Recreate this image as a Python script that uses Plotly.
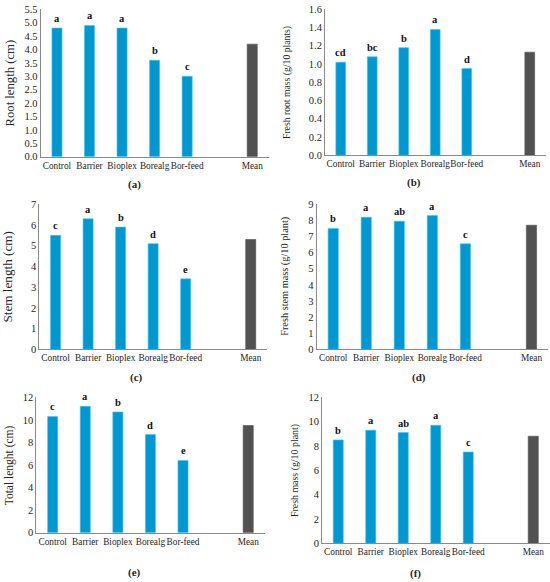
import plotly.graph_objects as go

# ---------------- data ----------------
categories = ["Control", "Barrier", "Bioplex", "Borealg", "Bor-feed", " ", "Mean"]

root_length = [4.8, 4.9, 4.8, 3.6, 3.0, None, 4.2]
root_letters = ["a", "a", "a", "b", "c", "", ""]

fresh_root_mass = [1.02, 1.08, 1.18, 1.38, 0.95, None, 1.13]
fresh_root_letters = ["cd", "bc", "b", "a", "d", "", ""]

stem_length = [5.5, 6.3, 5.9, 5.1, 3.4, None, 5.3]
stem_letters = ["c", "a", "b", "d", "e", "", ""]

fresh_stem_mass = [7.5, 8.2, 7.95, 8.3, 6.55, None, 7.7]
fresh_stem_letters = ["b", "a", "ab", "a", "c", "", ""]

total_length = [10.3, 11.2, 10.7, 8.7, 6.4, None, 9.5]
total_letters = ["c", "a", "b", "d", "e", "", ""]

fresh_mass = [8.5, 9.3, 9.1, 9.7, 7.5, None, 8.8]
fresh_mass_letters = ["b", "a", "ab", "a", "c", "", ""]

titles = ["Root length (cm)", "Fresh root mass (g/10 plants)", "Stem length (cm)",
          "Fresh stem mass (g/10 plant)", "Total lenght (cm)", "Fresh mass (g/10 plant)"]
captions = ["(a)", "(b)", "(c)", "(d)", "(e)", "(f)"]
y_max = [5.5, 1.6, 7, 9, 12, 12]
y_step = [0.5, 0.2, 1, 1, 2, 2]
y_fmt = [".1f", ".1f", "d", "d", "d", "d"]

series = [root_length, fresh_root_mass, stem_length, fresh_stem_mass, total_length, fresh_mass]
letters = [root_letters, fresh_root_letters, stem_letters, fresh_stem_letters,
           total_letters, fresh_mass_letters]

# ---------------- layout (pixel geometry) ----------------
W, H = 550, 582
# x0, x1, y_top, y_bottom (pixels)
boxes = [
    (40.7, 268.5, 9.3, 156.7),
    (325.0, 545.5, 9.3, 155.3),
    (39.3, 267.0, 204.3, 349.3),
    (316.7, 548.0, 204.3, 349.3),
    (36.4, 264.5, 397.3, 532.7),
    (322.0, 549.5, 397.3, 543.3),
]
title_size = [12.7, 9.7, 13.2, 10.3, 11.5, 9.9]
title_x = [9.5, 287.7, 7.8, 285.0, 9.3, 295.7]
caption_pos = [(134, 184.3), (414.3, 182.7), (136, 377.7), (419, 377.7), (134, 572.7), (415, 573.3)]

blue = "#0098D0"
blue_edge = "#47C3F0"
grey = "#525252"
axis_col = "#8a8a8a"
txt = "#262626"
FONT = "Liberation Serif"

fig = go.Figure()
layout = dict(width=W, height=H, margin=dict(l=0, r=0, t=0, b=0),
              paper_bgcolor="white", plot_bgcolor="white", showlegend=False,
              bargap=0, font=dict(family=FONT, color=txt))
annotations = []

for i in range(6):
    n = "" if i == 0 else str(i + 1)
    xa, ya = "x" + n, "y" + n
    x0, x1, yt, yb = boxes[i]
    colors = [grey if c == "Mean" else blue for c in categories]
    edges = [grey if c == "Mean" else blue_edge for c in categories]
    fig.add_trace(go.Bar(x=categories, y=series[i], xaxis=xa, yaxis=ya, width=0.31,
                         marker=dict(color=colors, line=dict(color=edges, width=0.6)),
                         hoverinfo="skip"))
    layout["xaxis" + n] = dict(domain=[x0 / W, x1 / W], anchor=ya, type="category",
                               categoryorder="array", categoryarray=categories,
                               range=[-0.5, len(categories) - 0.5],
                               showline=True, linecolor=axis_col, linewidth=1,
                               ticks="", showgrid=False, zeroline=False, tickangle=0,
                               automargin=False,
                               tickfont=dict(family=FONT, size=9.3, color=txt))
    layout["yaxis" + n] = dict(domain=[1 - yb / H, 1 - yt / H], anchor=xa,
                               range=[0, y_max[i]], dtick=y_step[i], tick0=0,
                               tickformat=y_fmt[i], showline=True, linecolor=axis_col,
                               linewidth=1, ticks="", showgrid=False, zeroline=False,
                               automargin=False,
                               tickfont=dict(family=FONT, size=10.5, color=txt))
    # y-axis title as annotation for exact placement
    annotations.append(dict(text=titles[i], xref="paper", yref="paper",
                            x=title_x[i] / W, y=1 - ((yt + yb) / 2) / H,
                            textangle=-90, showarrow=False, xanchor="center", yanchor="middle",
                            font=dict(family=FONT, size=title_size[i], color=txt)))
    # significance letters
    for c, v, l in zip(categories, series[i], letters[i]):
        if l and v is not None:
            annotations.append(dict(text="<b>" + l + "</b>", xref=xa, yref=ya, x=c, y=v,
                                    yanchor="bottom", showarrow=False, yshift=2,
                                    font=dict(family=FONT, size=10.5, color="#111")))
    cx, cy = caption_pos[i]
    annotations.append(dict(text="<b>" + captions[i] + "</b>", xref="paper", yref="paper",
                            x=cx / W, y=1 - cy / H, showarrow=False,
                            xanchor="center", yanchor="middle",
                            font=dict(family=FONT, size=11, color=txt)))

layout["annotations"] = annotations
fig.update_layout(**layout)
fig.write_html("out.html", config={"displayModeBar": False, "staticPlot": True},
               post_script="document.body.style.margin='0';document.body.style.overflow='hidden';")
